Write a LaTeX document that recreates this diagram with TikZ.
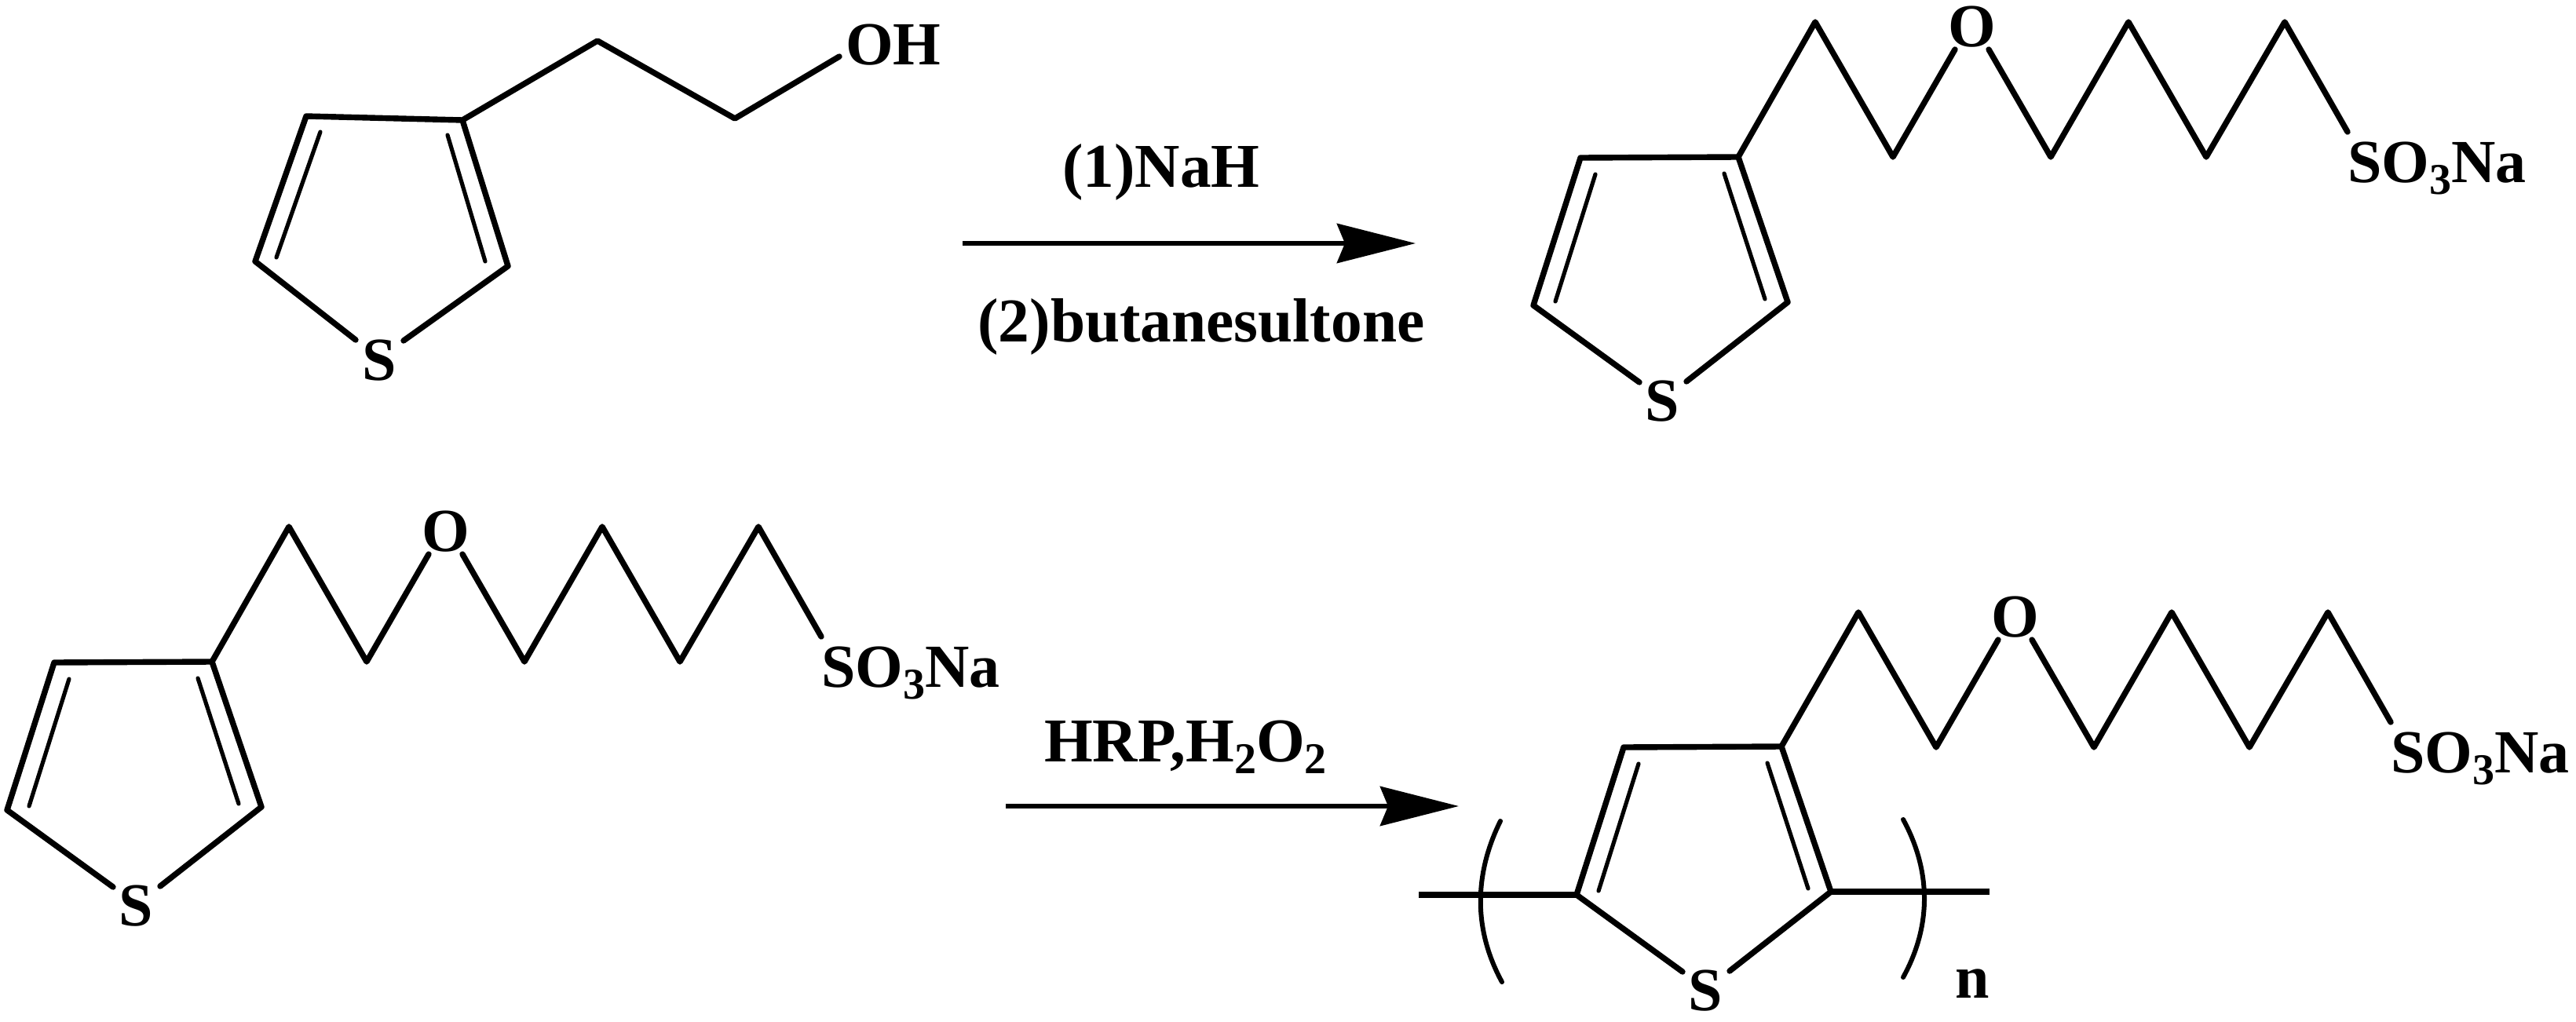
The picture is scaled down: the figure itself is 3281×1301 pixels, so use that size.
\documentclass[tikz,border=0pt]{standalone}
\usepackage{fontspec}
\setmainfont{Liberation Serif}
\usetikzlibrary{arrows.meta}
\newcommand\lowsub[1]{\raisebox{-7.5pt}{\fontsize{28}{28}\selectfont #1}}
\tikzset{
  x=0.5pt,y=-0.5pt,
  bond/.style={line width=3.7pt,line cap=round,line join=round,black},
  inner/.style={line width=2.6pt,line cap=round,black},
  arcbr/.style={line width=3pt,line cap=round,black},
  atom/.style={inner sep=0pt,outer sep=0pt,font=\fontsize{39}{39}\selectfont\bfseries,text=black},
  cond/.style={inner sep=0pt,outer sep=0pt,font=\fontsize{39.7}{39.7}\selectfont\bfseries,text=black},
  rxn/.style={line width=3.3pt,-{Stealth[length=50pt,width=25pt,inset=5pt]},black}
}
\newcommand\thioring[1]{%
  \coordinate (#1A) at (1953,389);
  \coordinate (#1B) at (2013,201);
  \coordinate (#1C) at (2214,200);
  \coordinate (#1D) at (2277,385);
  \coordinate (#1Sl) at (2088,487);
  \coordinate (#1Sr) at (2148,486);
  \coordinate (#1i1) at (1981,384);
  \coordinate (#1i2) at (2032,222);
  \coordinate (#1i3) at (2248,381);
  \coordinate (#1i4) at (2196,221);
  \node[atom,anchor=base] (#1S) at (2117,536) {S};
  \draw[bond] (#1Sl) -- (#1A) -- (#1B) -- (#1C) -- (#1D) -- (#1Sr);
  \draw[inner] (#1i1) -- (#1i2);
  \draw[inner] (#1i3) -- (#1i4);
}
\newcommand\sidechain[1]{%
  \coordinate (#1c1) at (2312,28);
  \coordinate (#1c2) at (2411,200);
  \coordinate (#1ol) at (2490,63);
  \coordinate (#1or) at (2533,63);
  \coordinate (#1c3) at (2612,200);
  \coordinate (#1c4) at (2711,28);
  \coordinate (#1c5) at (2810,200);
  \coordinate (#1c6) at (2910,28);
  \coordinate (#1e) at (2990,168);
  \node[atom,anchor=base] (#1O) at (2512,59) {O};
  \node[atom,anchor=base west] (#1Na) at (2990,232) {SO\lowsub{3}Na};
}
\begin{document}
\begin{tikzpicture}
\useasboundingbox (0,0) rectangle (3281,1301);
% structure 1
\coordinate (aA) at (325,333);
\coordinate (aB) at (390,148);
\coordinate (aC) at (589,153);
\coordinate (aD) at (647,339);
\coordinate (aSl) at (453,433);
\coordinate (aSr) at (514,434);
\coordinate (ai1) at (352,328);
\coordinate (ai2) at (408,168);
\coordinate (ai3) at (618,333);
\coordinate (ai4) at (570,172);
\coordinate (ac1) at (761,52);
\coordinate (ac2) at (936,151);
\coordinate (ae) at (1069,72);
\node[atom,anchor=base west] (aOH) at (1077,82) {OH};
\node[atom,anchor=base] (aS) at (483,484) {S};
\draw[bond] (aSl) -- (aA) -- (aB) -- (aC) -- (aD) -- (aSr);
\draw[inner] (ai1) -- (ai2);
\draw[inner] (ai3) -- (ai4);
\draw[bond] (aC) -- (ac1) -- (ac2) -- (ae);
% arrow 1
\coordinate (r1s) at (1226,310);
\coordinate (r1e) at (1803,310);
\draw[rxn] (r1s) -- (r1e);
\node[cond,anchor=base] (r1t) at (1479,238) {(1)NaH};
\node[cond,anchor=base] (r1b) at (1530,435) {(2)butanesultone};
% structure 2
\begin{scope}
  \thioring{b}
  \sidechain{b}
  \draw[bond] (bC) -- (bc1) -- (bc2) -- (bol);
  \draw[bond] (bor) -- (bc3) -- (bc4) -- (bc5) -- (bc6) -- (be);
\end{scope}
% structure 3
\begin{scope}[shift={(-1944,643)}]
  \thioring{c}
  \sidechain{c}
  \draw[bond] (cC) -- (cc1) -- (cc2) -- (col);
  \draw[bond] (cor) -- (cc3) -- (cc4) -- (cc5) -- (cc6) -- (ce);
\end{scope}
% arrow 2
\coordinate (r2s) at (1281,1027);
\coordinate (r2e) at (1858,1027);
\draw[rxn] (r2s) -- (r2e);
\node[cond,anchor=base] (r2t) at (1510,970) {HRP,H\lowsub{2}O\lowsub{2}};
% structure 4
\begin{scope}[shift={(55,751)}]
  \thioring{d}
\end{scope}
\begin{scope}[shift={(55,752)}]
  \sidechain{d}
  \draw[bond] (dC) -- (dc1) -- (dc2) -- (dol);
  \draw[bond] (dor) -- (dc3) -- (dc4) -- (dc5) -- (dc6) -- (de);
\end{scope}
\coordinate (dL) at (1807,1140);
\coordinate (dR) at (2534,1136);
\draw[bond,line cap=butt] (dL) -- (dA);
\draw[bond,line cap=butt] (dD) -- (dR);
\coordinate (blt) at (1911,1046);
\coordinate (blb) at (1913,1251);
\coordinate (brt) at (2424,1044);
\coordinate (brb) at (2424,1245);
\draw[arcbr] (blt) .. controls (1877,1115) and (1877,1185) .. (blb);
\draw[arcbr] (brt) .. controls (2460,1110) and (2460,1180) .. (brb);
\node[atom,anchor=base] (dn) at (2512,1271) {n};
\end{tikzpicture}
\end{document}
